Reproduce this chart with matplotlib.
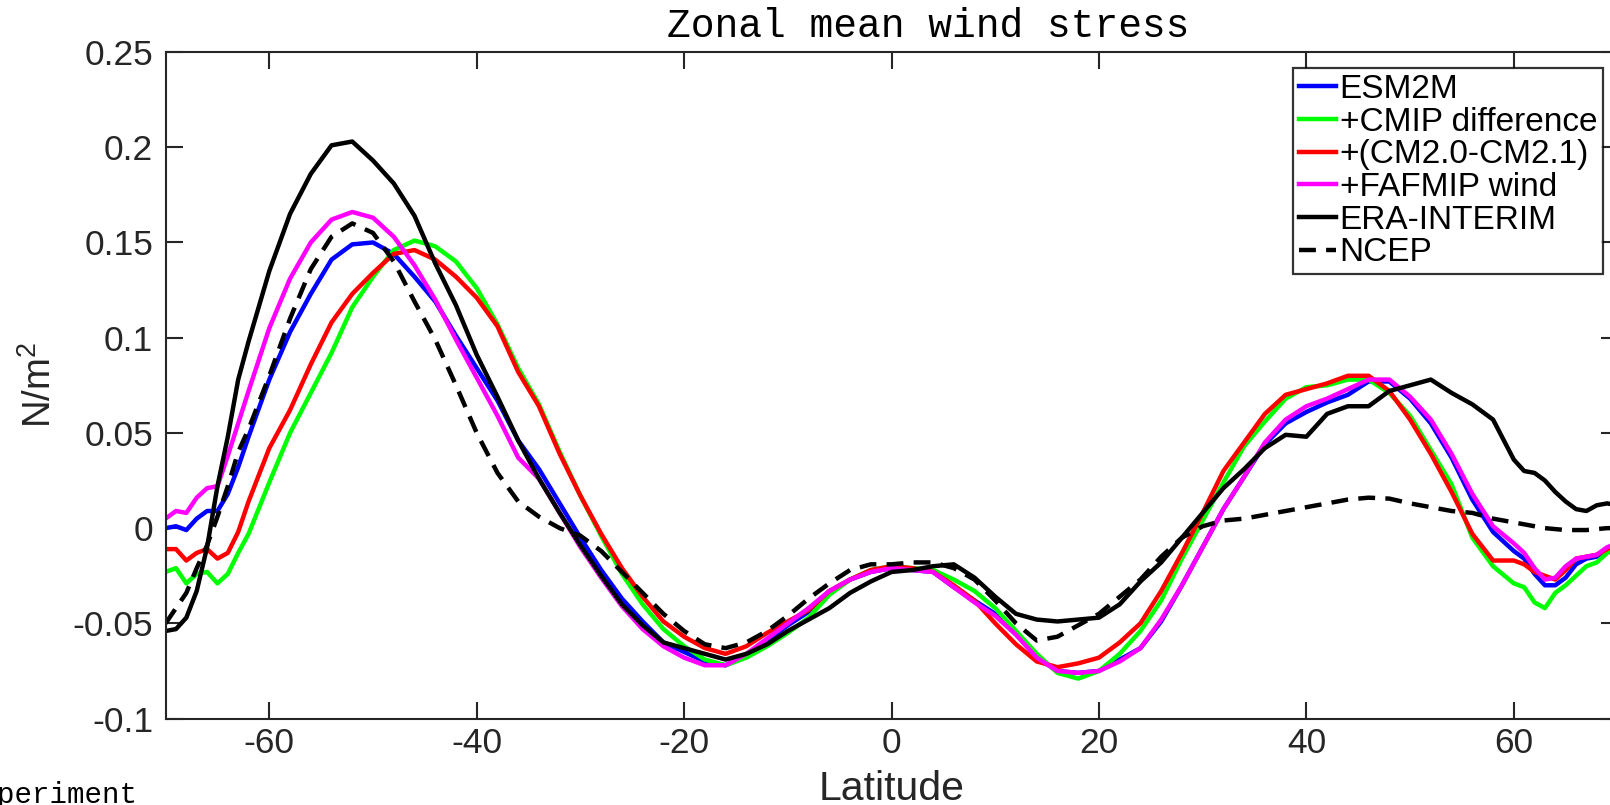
import matplotlib
matplotlib.use("Agg")
import matplotlib.pyplot as plt
from matplotlib.ticker import FuncFormatter, FixedLocator

plt.rcParams["mathtext.fontset"] = "custom"
plt.rcParams["mathtext.rm"] = "Liberation Sans"
plt.rcParams["mathtext.it"] = "Liberation Sans"

# Latitude grid (degrees); 1-degree near the ends, 2-degree elsewhere
lat = [-70, -69, -68, -67, -66, -65, -64, -63,
       -62, -60, -58, -56, -54, -52, -50, -48, -46, -44, -42, -40,
       -38, -36, -34, -32, -30, -28, -26, -24, -22, -20, -18, -16,
       -14, -12, -10, -8, -6, -4, -2, 0, 2, 4, 6, 8, 10, 12, 14, 16,
       18, 20, 22, 24, 26, 28, 30, 32, 34, 36, 38, 40, 42, 44, 46, 48,
       50, 52, 54, 56, 58, 60,
       61, 62, 63, 64, 65, 66, 67, 68, 69, 70]

# Zonal mean wind stress (N/m^2)
esm2m = [0.000, 0.001, -0.001, 0.005, 0.009, 0.009, 0.018, 0.032,
         0.048, 0.078, 0.103, 0.123, 0.141, 0.149, 0.150, 0.144, 0.132, 0.119, 0.101, 0.084,
         0.067, 0.046, 0.031, 0.013, -0.005, -0.022, -0.037, -0.049, -0.060, -0.065, -0.070, -0.072,
         -0.067, -0.059, -0.051, -0.044, -0.034, -0.027, -0.023, -0.021, -0.022, -0.023, -0.031, -0.038,
         -0.045, -0.055, -0.068, -0.075, -0.076, -0.075, -0.069, -0.063, -0.049, -0.030, -0.010, 0.010,
         0.027, 0.044, 0.055, 0.061, 0.066, 0.070, 0.077, 0.077, 0.068, 0.055, 0.037, 0.015, -0.002, -0.012,
         -0.016, -0.024, -0.030, -0.030, -0.026, -0.019, -0.016, -0.015, -0.011, -0.008]

cmip_diff = [-0.023, -0.021, -0.029, -0.024, -0.023, -0.029, -0.024, -0.013,
             -0.003, 0.024, 0.050, 0.071, 0.092, 0.116, 0.132, 0.146, 0.151, 0.148, 0.140, 0.126,
             0.107, 0.084, 0.065, 0.040, 0.017, -0.004, -0.024, -0.040, -0.053, -0.062, -0.069, -0.072,
             -0.068, -0.062, -0.055, -0.047, -0.035, -0.027, -0.022, -0.020, -0.021, -0.022, -0.027, -0.033,
             -0.042, -0.054, -0.066, -0.076, -0.079, -0.075, -0.066, -0.054, -0.038, -0.016, 0.004, 0.024,
             0.043, 0.056, 0.068, 0.074, 0.075, 0.078, 0.078, 0.071, 0.059, 0.041, 0.023, -0.005, -0.020, -0.029,
             -0.031, -0.039, -0.042, -0.034, -0.030, -0.025, -0.020, -0.018, -0.013, -0.011]

cm20_cm21 = [-0.011, -0.011, -0.017, -0.013, -0.011, -0.016, -0.013, -0.002,
             0.014, 0.042, 0.062, 0.086, 0.108, 0.123, 0.134, 0.144, 0.146, 0.141, 0.132, 0.121,
             0.106, 0.082, 0.064, 0.039, 0.017, -0.003, -0.021, -0.036, -0.049, -0.057, -0.063, -0.066,
             -0.062, -0.055, -0.049, -0.043, -0.033, -0.027, -0.022, -0.020, -0.021, -0.023, -0.030, -0.038,
             -0.050, -0.061, -0.070, -0.073, -0.071, -0.068, -0.060, -0.050, -0.033, -0.013, 0.008, 0.030,
             0.045, 0.060, 0.070, 0.073, 0.076, 0.080, 0.080, 0.072, 0.057, 0.039, 0.019, -0.003, -0.017, -0.017,
             -0.019, -0.023, -0.025, -0.027, -0.022, -0.016, -0.015, -0.014, -0.011, -0.008]

fafmip = [0.005, 0.009, 0.008, 0.016, 0.021, 0.022, 0.038, 0.055,
          0.072, 0.105, 0.131, 0.150, 0.162, 0.166, 0.163, 0.153, 0.138, 0.120, 0.099, 0.079,
          0.059, 0.037, 0.026, 0.008, -0.010, -0.026, -0.041, -0.053, -0.062, -0.068, -0.072, -0.072,
          -0.066, -0.058, -0.050, -0.042, -0.033, -0.027, -0.023, -0.021, -0.022, -0.023, -0.031, -0.039,
          -0.046, -0.056, -0.068, -0.075, -0.076, -0.075, -0.070, -0.063, -0.048, -0.030, -0.010, 0.010,
          0.027, 0.045, 0.057, 0.064, 0.068, 0.073, 0.078, 0.078, 0.069, 0.057, 0.039, 0.018, 0.001, -0.008,
          -0.013, -0.021, -0.027, -0.026, -0.020, -0.016, -0.015, -0.014, -0.010, -0.008]

era_interim = [-0.054, -0.053, -0.047, -0.033, -0.010, 0.022, 0.048, 0.078,
               0.098, 0.135, 0.165, 0.186, 0.201, 0.203, 0.193, 0.181, 0.164, 0.139, 0.117, 0.091,
               0.069, 0.046, 0.026, 0.008, -0.009, -0.025, -0.040, -0.051, -0.060, -0.063, -0.066, -0.069,
               -0.066, -0.061, -0.054, -0.048, -0.042, -0.034, -0.028, -0.023, -0.022, -0.020, -0.019, -0.026,
               -0.036, -0.045, -0.048, -0.049, -0.048, -0.047, -0.040, -0.028, -0.018, -0.005, 0.008, 0.021,
               0.031, 0.042, 0.049, 0.048, 0.060, 0.064, 0.064, 0.072, 0.075, 0.078, 0.071, 0.065, 0.057, 0.036,
               0.030, 0.029, 0.025, 0.019, 0.014, 0.010, 0.009, 0.012, 0.013, 0.012]

ncep = [-0.050, -0.042, -0.034, -0.021, -0.009, 0.006, 0.022, 0.040,
        0.052, 0.080, 0.110, 0.136, 0.153, 0.160, 0.155, 0.140, 0.119, 0.099, 0.075, 0.050,
        0.029, 0.014, 0.006, 0.000, -0.004, -0.012, -0.023, -0.034, -0.045, -0.054, -0.061, -0.063,
        -0.060, -0.054, -0.046, -0.037, -0.029, -0.022, -0.019, -0.019, -0.018, -0.018, -0.021, -0.027,
        -0.038, -0.050, -0.059, -0.057, -0.051, -0.045, -0.036, -0.027, -0.015, -0.005, 0.001, 0.004,
        0.005, 0.007, 0.009, 0.011, 0.013, 0.015, 0.016, 0.0155, 0.013, 0.011, 0.009, 0.008, 0.005, 0.003,
        0.002, 0.001, 0.000, -0.0005, -0.001, -0.001, -0.001, -0.0005, 0.000, 0.000]

labels = ["ESM2M", "+CMIP difference", "+(CM2.0-CM2.1)", "+FAFMIP wind",
          "ERA-INTERIM", "NCEP"]
xticks = [-60, -40, -20, 0, 20, 40, 60]
yticks = [-0.1, -0.05, 0, 0.05, 0.1, 0.15, 0.2, 0.25]

W, H = 1610, 805
fig = plt.figure(figsize=(W / 100, H / 100), dpi=100)
sans = "Liberation Sans"
mono = "Liberation Mono"

left, right, top, bottom = 165.6, 1617.5, 52.0, 718.6
ax = fig.add_axes([left / W, 1 - bottom / H, (right - left) / W, (bottom - top) / H])

lw = 3.2
ax.plot(lat, esm2m, color=(0, 0, 1), lw=lw, label=labels[0])
ax.plot(lat, cmip_diff, color=(0, 1, 0), lw=lw, label=labels[1])
ax.plot(lat, cm20_cm21, color=(1, 0, 0), lw=lw, label=labels[2])
ax.plot(lat, fafmip, color=(1, 0, 1), lw=lw, label=labels[3])
ax.plot(lat, era_interim, color="black", lw=lw, label=labels[4])
ax.plot(lat, ncep, color="black", lw=lw, dashes=(3.8, 2.3), label=labels[5])

ax.set_xlim(-70, 70)
ax.set_ylim(-0.1, 0.25)
ax.xaxis.set_major_locator(FixedLocator(xticks))
ax.yaxis.set_major_locator(FixedLocator(yticks))
ax.xaxis.set_major_formatter(FuncFormatter(lambda v, p: "%g" % v))
ax.yaxis.set_major_formatter(FuncFormatter(lambda v, p: "%g" % v))

axcol = "#262626"
for s in ax.spines.values():
    s.set_color(axcol)
    s.set_linewidth(1.5)
ax.tick_params(direction="in", length=12, width=1.5, color=axcol,
               top=True, right=True, labelsize=25.5, labelcolor=axcol)
ax.tick_params(axis="x", pad=6)
ax.tick_params(axis="y", pad=9)
for t in ax.get_xticklabels() + ax.get_yticklabels():
    t.set_fontfamily(sans)

ax.set_xlabel("Latitude", fontsize=29.5, family=sans, color=axcol, va="baseline")
ax.xaxis.set_label_coords(0.5, (bottom - 800) / (bottom - top))
ax.set_ylabel("N/m$^{\\mathregular{2}}$", fontsize=27.5, family=sans, color=axcol,
              va="center", ha="center")
ax.yaxis.set_label_coords((40 - left) / (right - left), 0.5)

fig.text(928 / W, 1 - 37 / H, "Zonal mean wind stress", family=mono,
         fontsize=28.5, ha="center", va="baseline", color="black")
fig.text(-37 / W, 2 / H, "Experiment", family=mono, fontsize=21,
         ha="left", va="baseline", color="black")

leg = ax.legend(loc="upper left", bbox_to_anchor=(1293 / W, 1 - 68 / H),
                bbox_transform=fig.transFigure, borderaxespad=0,
                prop={"family": sans, "size": 24}, frameon=True, fancybox=False,
                handlelength=1.1, handletextpad=0.12, labelspacing=0.05,
                borderpad=0.18)
leg.get_frame().set_edgecolor("black")
leg.get_frame().set_linewidth(1.6)

fig.savefig("out.png", dpi=100)
